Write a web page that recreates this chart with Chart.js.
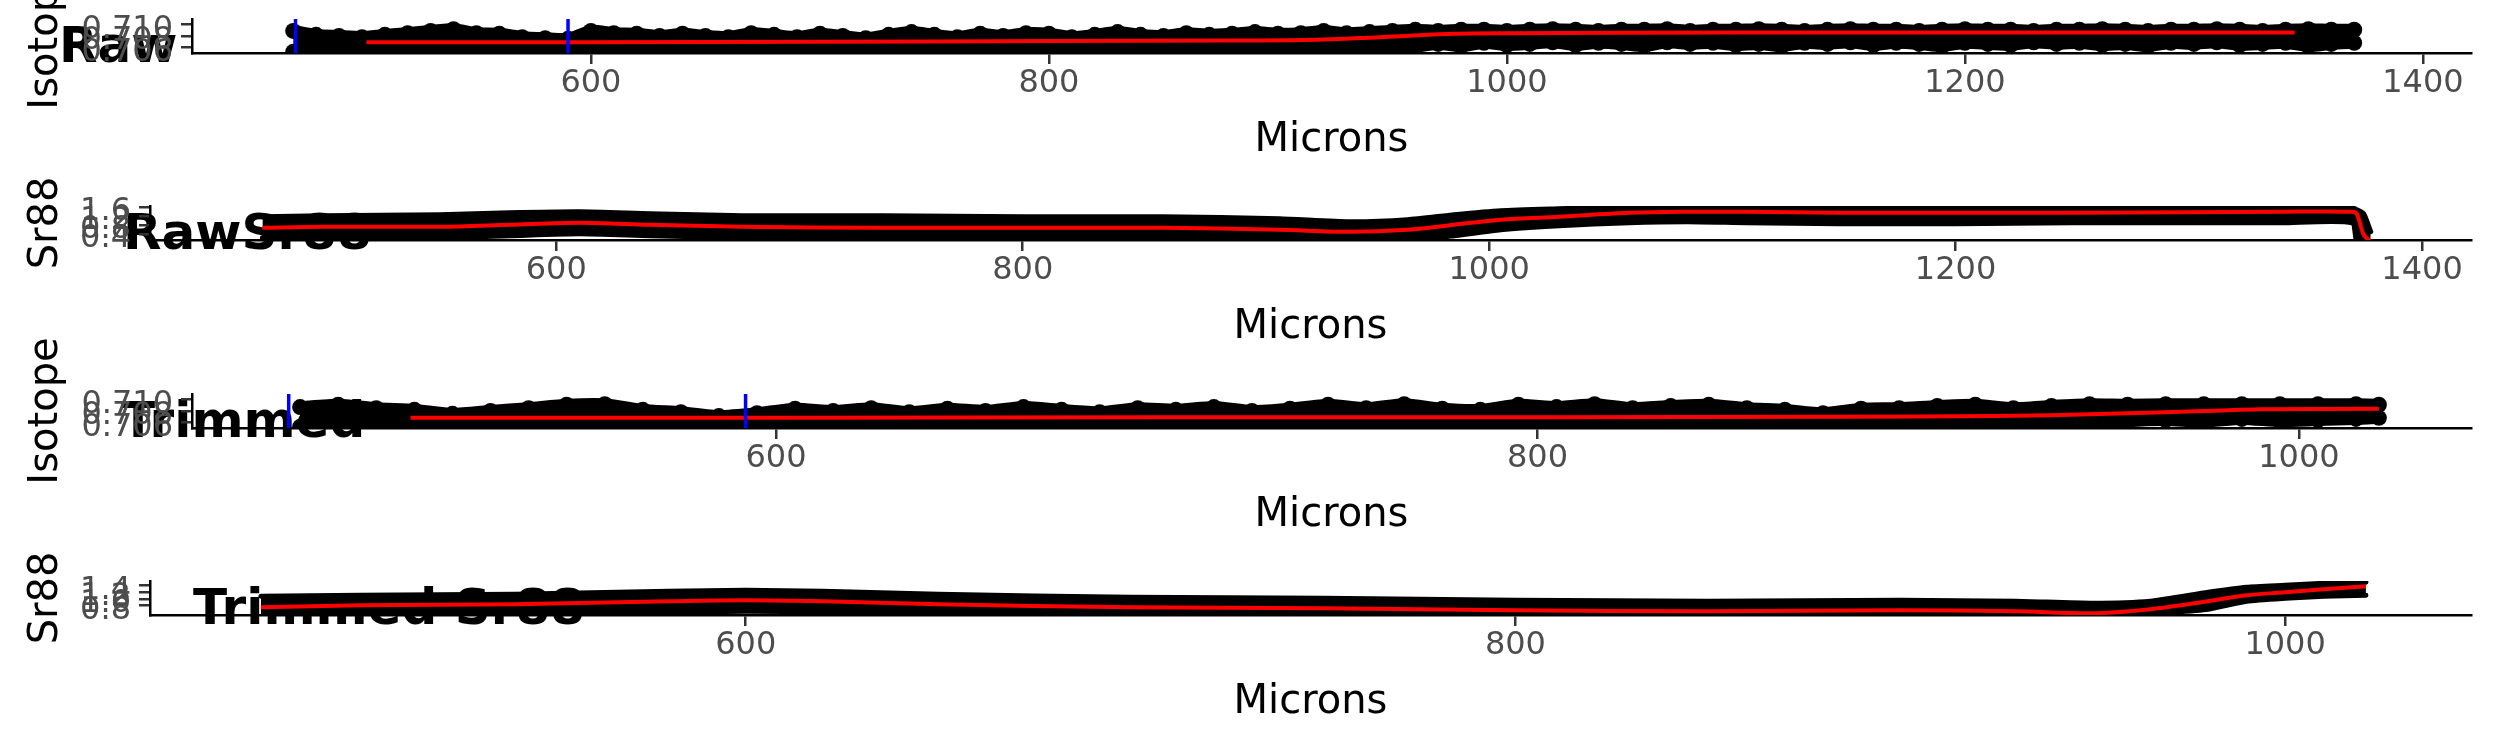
<!DOCTYPE html>
<html>
<head>
<meta charset="utf-8">
<script src="https://cdn.jsdelivr.net/npm/chart.js@4.4.1/dist/chart.umd.min.js"></script>
<style>
  html, body { margin: 0; padding: 0; background: #fff; }
  #wrap { position: relative; width: 2495px; height: 749px; overflow: hidden; background: #fff; }
  #wrap canvas { position: absolute; left: 0; }
</style>
</head>
<body>
<div id="wrap">
  <canvas id="p1" width="2495" height="248" style="top:-60px"></canvas>
  <canvas id="p2" width="2495" height="248" style="top:127px"></canvas>
  <canvas id="p3" width="2495" height="248" style="top:315px"></canvas>
  <canvas id="p4" width="2495" height="248" style="top:502px"></canvas>
</div>
<script>
/* ---------- data ---------- */

const rawTicksX = [600, 800, 1000, 1200, 1400];
const trimTicksX = [600, 800, 1000];
const isoTicksY = [0.706, 0.708, 0.710];
const isoTickLabels = ['0.706', '0.708', '0.710'];
const rawSrTicksY = [0.4, 0.8, 1.2, 1.6];
const rawSrTickLabels = ['0.4', '0.8', '1.2', '1.6'];
const trimSrTicksY = [0.8, 1.0, 1.2, 1.4];
const trimSrTickLabels = ['0.8', '1.0', '1.2', '1.4'];

// Raw isotope: top and bottom of the point cloud, every 10 microns
const rawIsoMicrons = [
  470, 480, 490, 500, 510, 520, 530, 540, 550, 560,
  570, 580, 590, 600, 610, 620, 630, 640, 650, 660,
  670, 680, 690, 700, 710, 720, 730, 740, 750, 760,
  770, 780, 790, 800, 810, 820, 830, 840, 850, 860,
  870, 880, 890, 900, 910, 920, 930, 940, 950, 960,
  970, 980, 990, 1000, 1010, 1020, 1030, 1040, 1050, 1060,
  1070, 1080, 1090, 1100, 1110, 1120, 1130, 1140, 1150, 1160,
  1170, 1180, 1190, 1200, 1210, 1220, 1230, 1240, 1250, 1260,
  1270, 1280, 1290, 1300, 1310, 1320, 1330, 1340, 1350, 1360,
  1370
];
const rawIsoTop = [
  0.7089, 0.7082, 0.7080, 0.7078, 0.7082, 0.7085, 0.7089, 0.7092, 0.7085, 0.7084,
  0.7078, 0.7076, 0.7075, 0.7089, 0.7085, 0.7084, 0.7080, 0.7084, 0.7080, 0.7078,
  0.7085, 0.7082, 0.7078, 0.7084, 0.7080, 0.7076, 0.7082, 0.7087, 0.7082, 0.7078,
  0.7084, 0.7080, 0.7085, 0.7084, 0.7078, 0.7082, 0.7087, 0.7082, 0.7080, 0.7085,
  0.7082, 0.7084, 0.7087, 0.7084, 0.7085, 0.7089, 0.7085, 0.7087, 0.7089, 0.7091,
  0.7089, 0.7091, 0.7091, 0.7089, 0.7091, 0.7092, 0.7091, 0.7089, 0.7091, 0.7091,
  0.7092, 0.7089, 0.7091, 0.7091, 0.7092, 0.7091, 0.7089, 0.7091, 0.7092, 0.7091,
  0.7091, 0.7089, 0.7091, 0.7092, 0.7091, 0.7091, 0.7089, 0.7091, 0.7091, 0.7092,
  0.7091, 0.7089, 0.7091, 0.7091, 0.7092, 0.7091, 0.7089, 0.7091, 0.7092, 0.7091,
  0.7091
];
const rawIsoBottom = [
  0.7052, 0.7052, 0.7052, 0.7052, 0.7052, 0.7052, 0.7052, 0.7052, 0.7052, 0.7052,
  0.7052, 0.7052, 0.7052, 0.7052, 0.7052, 0.7052, 0.7052, 0.7052, 0.7052, 0.7052,
  0.7052, 0.7052, 0.7052, 0.7052, 0.7052, 0.7052, 0.7052, 0.7052, 0.7052, 0.7052,
  0.7052, 0.7052, 0.7052, 0.7052, 0.7052, 0.7052, 0.7052, 0.7052, 0.7052, 0.7052,
  0.7052, 0.7052, 0.7052, 0.7052, 0.7052, 0.7052, 0.7052, 0.7052, 0.7055, 0.7061,
  0.7066, 0.7062, 0.7068, 0.7064, 0.7066, 0.7069, 0.7064, 0.7068, 0.7066, 0.7062,
  0.7069, 0.7066, 0.7068, 0.7064, 0.7066, 0.7062, 0.7068, 0.7066, 0.7069, 0.7064,
  0.7068, 0.7066, 0.7062, 0.7068, 0.7066, 0.7064, 0.7069, 0.7066, 0.7068, 0.7064,
  0.7066, 0.7062, 0.7068, 0.7066, 0.7069, 0.7064, 0.7066, 0.7068, 0.7062, 0.7066,
  0.7068
];
const rawIsoSmoothMicrons = [502, 600, 700, 800, 880, 910, 940, 976, 1000, 1100, 1200, 1300, 1344];
const rawIsoSmooth = [0.7069, 0.7069, 0.7070, 0.7071, 0.7072, 0.7073, 0.7077, 0.7084, 0.7085, 0.7086, 0.7086, 0.7086, 0.7086];
const rawIsoCuts = [471, 590];

// Raw Sr88: band edges and running mean
const rawSrMicrons = [474, 500, 550, 580, 610, 640, 680, 740, 800, 860, 910, 940, 965, 985,
  1005, 1030, 1060, 1085, 1110, 1150, 1200, 1250, 1300, 1340, 1370, 1372, 1375, 1378];
const rawSrTop = [1.166, 1.211, 1.255, 1.344, 1.389, 1.300, 1.211, 1.211, 1.166, 1.166, 1.077, 0.944, 1.033, 1.255,
  1.433, 1.522, 1.611, 1.611, 1.611, 1.566, 1.566, 1.566, 1.566, 1.566, 1.566, 1.477, 1.300, 0.500];
const rawSrBottom = [0.233, 0.233, 0.233, 0.322, 0.411, 0.322, 0.233, 0.233, 0.233, 0.188, 0.144, 0.055, 0.100, 0.322,
  0.588, 0.766, 0.900, 0.944, 0.900, 0.855, 0.855, 0.900, 0.900, 0.900, 0.900, 0.055, 0.055, 0.055];
const rawSrSmooth = [0.677, 0.722, 0.722, 0.811, 0.900, 0.811, 0.722, 0.677, 0.677, 0.677, 0.588, 0.500, 0.588, 0.811,
  1.033, 1.166, 1.344, 1.389, 1.389, 1.344, 1.344, 1.344, 1.366, 1.389, 1.389, 1.300, 0.366, 0.055];

// Trimmed isotope
const trimIsoMicrons = [
  475, 485, 495, 505, 515, 525, 535, 545, 555, 565,
  575, 585, 595, 605, 615, 625, 635, 645, 655, 665,
  675, 685, 695, 705, 715, 725, 735, 745, 755, 765,
  775, 785, 795, 805, 815, 825, 835, 845, 855, 865,
  875, 885, 895, 905, 915, 925, 935, 945, 955, 965,
  975, 985, 995, 1005, 1015, 1021
];
const trimIsoTop = [
  0.7087, 0.7091, 0.7085, 0.7082, 0.7075, 0.7080, 0.7085, 0.7091, 0.7092, 0.7082,
  0.7078, 0.7071, 0.7076, 0.7084, 0.7080, 0.7085, 0.7078, 0.7084, 0.7080, 0.7087,
  0.7082, 0.7078, 0.7085, 0.7082, 0.7087, 0.7080, 0.7084, 0.7091, 0.7085, 0.7092,
  0.7084, 0.7082, 0.7091, 0.7087, 0.7092, 0.7085, 0.7089, 0.7091, 0.7085, 0.7082,
  0.7076, 0.7084, 0.7085, 0.7089, 0.7091, 0.7085, 0.7089, 0.7092, 0.7091, 0.7092,
  0.7092, 0.7092, 0.7092, 0.7092, 0.7092, 0.7091
];
const trimIsoBottom = [
  0.7052, 0.7052, 0.7052, 0.7052, 0.7052, 0.7052, 0.7052, 0.7052, 0.7052, 0.7052,
  0.7052, 0.7052, 0.7052, 0.7052, 0.7052, 0.7052, 0.7052, 0.7052, 0.7052, 0.7052,
  0.7052, 0.7052, 0.7052, 0.7052, 0.7052, 0.7052, 0.7052, 0.7052, 0.7052, 0.7052,
  0.7052, 0.7052, 0.7052, 0.7052, 0.7052, 0.7052, 0.7052, 0.7052, 0.7052, 0.7052,
  0.7052, 0.7052, 0.7052, 0.7055, 0.7059, 0.7054, 0.7061, 0.7057, 0.7062, 0.7064,
  0.7061, 0.7066, 0.7062, 0.7064, 0.7066, 0.7068
];
const trimIsoSmoothMicrons = [504, 600, 700, 800, 880, 920, 950, 975, 990, 1021];
const trimIsoSmooth = [0.7068, 0.7068, 0.7069, 0.7069, 0.7070, 0.7071, 0.7075, 0.7080, 0.7083, 0.7084];
const trimIsoCuts = [472, 592];

// Trimmed Sr88
const trimSrMicrons = [474, 500, 540, 580, 600, 620, 650, 700, 750, 800, 850, 900, 930, 950, 965, 980, 990, 1000, 1010, 1021];
const trimSrTop = [1.074, 1.104, 1.133, 1.222, 1.252, 1.222, 1.133, 1.044, 1.015, 0.955, 0.926, 0.955, 0.926, 0.867, 0.926, 1.192, 1.341, 1.400, 1.459, 1.489];
const trimSrBottom = [0.452, 0.481, 0.511, 0.600, 0.630, 0.600, 0.511, 0.452, 0.422, 0.392, 0.363, 0.392, 0.363, 0.333, 0.541, 0.689, 0.926, 1.015, 1.074, 1.104];
const trimSrSmooth = [0.748, 0.807, 0.837, 0.926, 0.955, 0.926, 0.837, 0.748, 0.718, 0.659, 0.630, 0.659, 0.630, 0.570, 0.689, 0.926, 1.104, 1.192, 1.281, 1.370];

/* ---------- drawing ---------- */

const FONT = 'DejaVu Sans';

// plot title, drawn under the panel like the ggplot output
const plotTitle = {
  id: 'plotTitle',
  beforeDraw(chart, args, opts) {
    const ctx = chart.ctx;
    ctx.save();
    ctx.font = `bold 50px "${FONT}"`;
    ctx.fillStyle = '#000';
    ctx.textBaseline = 'alphabetic';
    ctx.fillText(opts.text, opts.x, opts.y);
    ctx.restore();
  }
};

const pts = (xs, ys) => xs.map((x, i) => ({ x, y: ys[i] }));

// the black point cloud: two edges with the gap filled
function bandSets(p) {
  const base = { type: 'line', borderColor: '#000', backgroundColor: '#000',
    borderWidth: p.blob ? 12 : 5, pointRadius: p.blob || 0, pointBackgroundColor: '#000',
    pointBorderWidth: 0, borderCapStyle: 'round', borderJoinStyle: 'round', tension: 0.2, clip: 0 };
  return [
    { ...base, data: pts(p.microns, p.bottom), fill: false, order: 3 },
    { ...base, data: pts(p.microns, p.top), fill: '-1', order: 2 }
  ];
}

function makePanel(id, p) {
  const datasets = bandSets(p);
  datasets.push({ type: 'line', data: pts(p.smoothMicrons, p.smooth), borderColor: '#FF0000', borderWidth: 4,
    pointRadius: 0, fill: false, tension: 0.3, clip: 0, order: 1 });
  (p.cuts || []).forEach(c => datasets.push({ type: 'line', data: [{ x: c, y: p.yMin }, { x: c, y: p.yMax }],
    borderColor: '#0000FF', borderWidth: 3.5, pointRadius: 0, fill: false, clip: 0, order: 0 }));

  new Chart(document.getElementById(id), {
    type: 'line',
    data: { datasets },
    plugins: [plotTitle],
    options: {
      responsive: false,
      animation: false,
      events: [],
      layout: { padding: { top: 79, right: 24, bottom: 0, left: 0 } },
      plugins: {
        legend: { display: false },
        tooltip: { enabled: false },
        plotTitle: { text: p.title, x: p.titleX, y: 122 }
      },
      scales: {
        x: {
          type: 'linear', min: p.xMin, max: p.xMax,
          afterBuildTicks: s => { s.ticks = p.xTicks.map(v => ({ value: v })); },
          afterFit: s => { s.height = 135; s.paddingLeft = 0; s.paddingRight = 0; },
          grid: { drawOnChartArea: false, drawTicks: true, tickLength: 11, color: '#333333', lineWidth: 2.5 },
          border: { display: true, color: '#000', width: 2.5 },
          ticks: { autoSkip: false, maxRotation: 0, padding: 0, color: '#4D4D4D',
            font: { family: FONT, size: 32 }, callback: v => String(v) },
          title: { display: true, text: 'Microns', color: '#000', font: { family: FONT, size: 40 },
            padding: { top: 0, bottom: 23 } }
        },
        y: {
          type: 'linear', min: p.yMin, max: p.yMax,
          afterBuildTicks: s => { s.ticks = p.yTicks.map(v => ({ value: v })); },
          afterFit: s => { s.width = p.left; s.paddingTop = 0; s.paddingBottom = 0; },
          grid: { drawOnChartArea: false, drawTicks: true, tickLength: 11, color: '#333333', lineWidth: 2.5 },
          border: { display: true, color: '#000', width: 2.5 },
          ticks: { autoSkip: false, padding: 8, labelOffset: 5, color: '#4D4D4D', font: { family: FONT, size: 32 },
            callback: (v, i) => p.yTickLabels[i] },
          title: { display: true, text: p.yTitle, color: '#000', font: { family: FONT, size: 40 },
            padding: { top: 23, bottom: 0 } }
        }
      }
    }
  });
}

makePanel('p1', {
  title: 'Raw', titleX: 59, yTitle: 'Isotope', left: 192,
  xMin: 425.8, xMax: 1421, xTicks: rawTicksX,
  yMin: 0.7050, yMax: 0.7110, yTicks: isoTicksY, yTickLabels: isoTickLabels,
  microns: rawIsoMicrons, top: rawIsoTop, bottom: rawIsoBottom, blob: 8,
  smoothMicrons: rawIsoSmoothMicrons, smooth: rawIsoSmooth, cuts: rawIsoCuts
});

makePanel('p2', {
  title: 'RawSr88', titleX: 123, yTitle: 'Sr88', left: 150,
  xMin: 425.8, xMax: 1421, xTicks: rawTicksX,
  yMin: 0.133, yMax: 1.644, yTicks: rawSrTicksY, yTickLabels: rawSrTickLabels,
  microns: rawSrMicrons, top: rawSrTop, bottom: rawSrBottom,
  smoothMicrons: rawSrMicrons, smooth: rawSrSmooth
});

makePanel('p3', {
  title: 'Trimmed', titleX: 121, yTitle: 'Isotope', left: 192,
  xMin: 446.6, xMax: 1045.2, xTicks: trimTicksX,
  yMin: 0.7050, yMax: 0.7110, yTicks: isoTicksY, yTickLabels: isoTickLabels,
  microns: trimIsoMicrons, top: trimIsoTop, bottom: trimIsoBottom, blob: 8,
  smoothMicrons: trimIsoSmoothMicrons, smooth: trimIsoSmooth, cuts: trimIsoCuts
});

makePanel('p4', {
  title: 'Trimmed Sr88', titleX: 193, yTitle: 'Sr88', left: 150,
  xMin: 445.2, xMax: 1048.3, xTicks: trimTicksX,
  yMin: 0.5185, yMax: 1.526, yTicks: trimSrTicksY, yTickLabels: trimSrTickLabels,
  microns: trimSrMicrons, top: trimSrTop, bottom: trimSrBottom,
  smoothMicrons: trimSrMicrons, smooth: trimSrSmooth
});
</script>
</body>
</html>
